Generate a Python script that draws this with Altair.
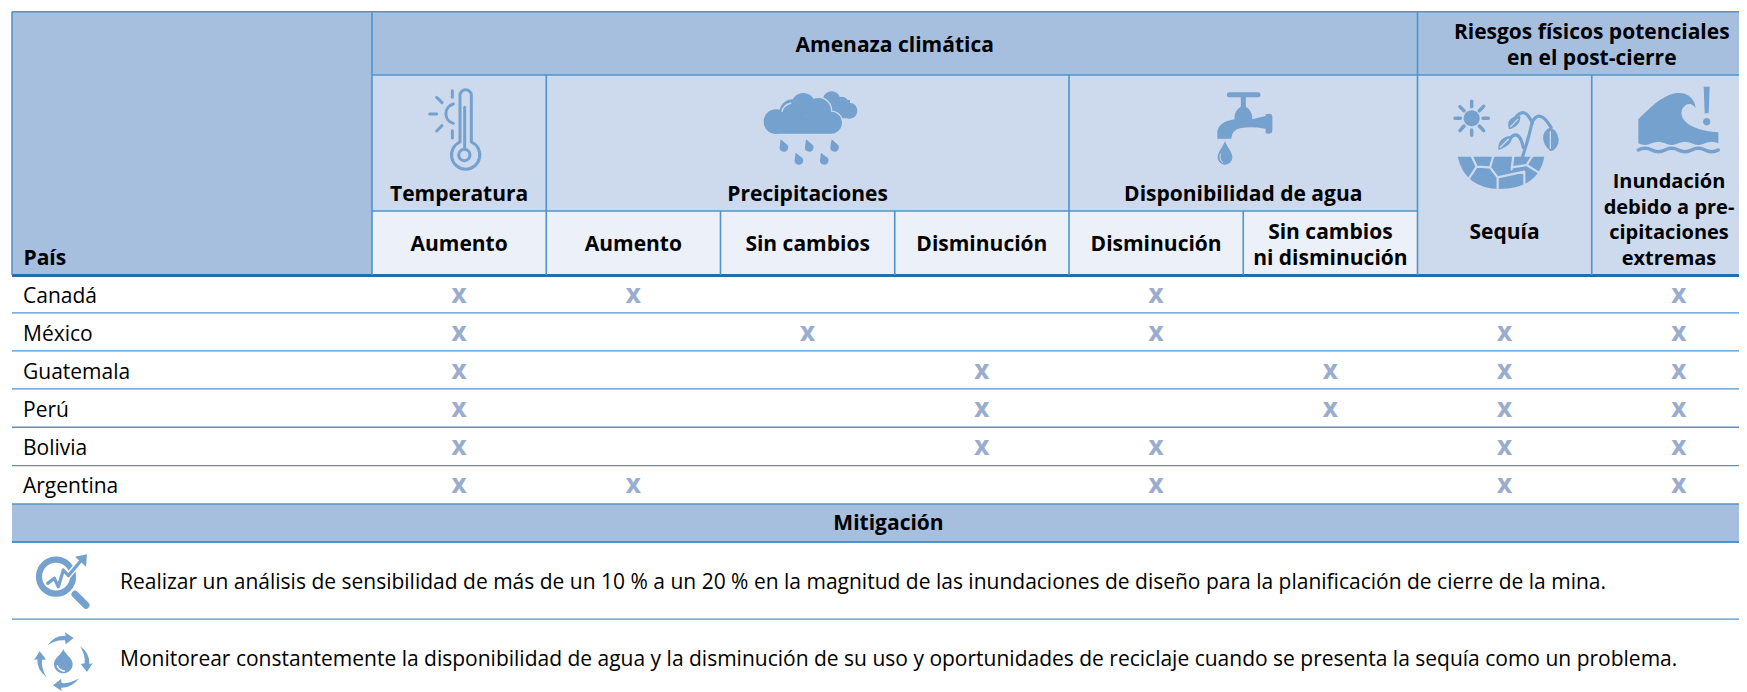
import math
import altair as alt
import pandas as pd

# ---------- table content ----------
COUNTRIES = ["Canadá", "México", "Guatemala", "Perú", "Bolivia", "Argentina"]
# which of the eight columns carries an X, per country
MARKS = {
    "Canadá":    [0, 1, 4, 7],
    "México":    [0, 2, 4, 6, 7],
    "Guatemala": [0, 3, 5, 6, 7],
    "Perú":      [0, 3, 5, 6, 7],
    "Bolivia":   [0, 3, 4, 6, 7],
    "Argentina": [0, 1, 4, 6, 7],
}
MITIGATION = [
    "Realizar un análisis de sensibilidad de más de un 10 % a un 20 % en la magnitud de las inundaciones de diseño para la planificación de cierre de la mina.",
    "Monitorear constantemente la disponibilidad de agua y la disminución de su uso y oportunidades de reciclaje cuando se presenta la sequía como un problema.",
]

DARK, MID, LIGHT = "#A6BFDF", "#CDD9EC", "#ECF0F9"
LINE, THICK = "#4F94CC", "#1F6FAE"
INK, XCOL, ICON = "#000000", "#9BADCE", "#75A1CF"
FONT = "Open Sans"

# ---------- logical grid: 1 x-unit = one data column, 1 y-unit = one country row ----------
W, H = 1731, 684
CW, RH = 174.25, 38.0
X0, Y0 = 372.0, 276.0      # page position of grid origin
def ux(px): return (px - X0) / CW
def uy(py): return (py - Y0) / RH
xs = alt.Scale(domain=[ux(8), ux(8 + W)], range=[0, W], nice=False, zero=False)
ys = alt.Scale(domain=[uy(8), uy(8 + H)], range=[0, H], nice=False, zero=False)
X = lambda f="x": alt.X(f"{f}:Q", scale=xs, axis=None)
Y = lambda f="y": alt.Y(f"{f}:Q", scale=ys, axis=None)

LEFT = ux(12)
RIGHT = ux(8 + W)
TOP, R1, R2, R3 = uy(11.7), uy(75), uy(211), uy(275)

# ---------- cells ----------
cells = [
    (LEFT, 0, TOP, R3, DARK),
    (0, RIGHT, TOP, R1, DARK),
    (0, 6, R1, R2, MID),
    (0, 6, R2, R3, LIGHT),
    (6, RIGHT, R1, R3, MID),
    (LEFT, RIGHT, 6, 7, DARK),
]
cell_df = pd.DataFrame(cells, columns=["x", "x2", "y", "y2", "c"])
rects = alt.Chart(cell_df).mark_rect(strokeWidth=0).encode(
    x=X(), x2="x2:Q", y=Y(), y2="y2:Q",
    color=alt.Color("c:N", scale=None),
)

# ---------- lines ----------
hl = [(LEFT, RIGHT, TOP, 1.6, LINE), (0, RIGHT, R1, 1.6, LINE), (0, 6, R2, 1.6, LINE),
      (LEFT, RIGHT, uy(275.5), 3, THICK)]
for r in [0.97, 1.97, 2.97, 3.98, 4.99]:
    hl.append((LEFT, RIGHT, r, 1.3, LINE))
hl += [(LEFT, RIGHT, 6, 1.6, LINE), (LEFT, RIGHT, 7, 1.8, LINE), (LEFT, RIGHT, 9.03, 1.4, LINE)]
hdf = pd.DataFrame(hl, columns=["x", "x2", "y", "w", "c"])
hrules = alt.Chart(hdf).mark_rule().encode(
    x=X(), x2="x2:Q", y=Y(),
    color=alt.Color("c:N", scale=None),
    strokeWidth=alt.StrokeWidth("w:Q", scale=None),
)
vl = [(LEFT, TOP, R3), (0, TOP, R3), (6, TOP, R3),
      (1, R1, R3), (2, R2, R3), (3, R2, R3), (4, R1, R3), (5, R2, R3), (7, R1, R3)]
vdf = pd.DataFrame(vl, columns=["x", "y", "y2"])
vrules = alt.Chart(vdf).mark_rule(color=LINE, strokeWidth=1.6).encode(
    x=X(), y=Y(), y2="y2:Q",
)

# ---------- texts ----------
def tx(rows, dy=1.3, **kw):
    df = pd.DataFrame(rows, columns=["x", "y", "t"])
    return alt.Chart(df).mark_text(font=FONT, color=kw.pop("color", INK), baseline="middle", dy=dy, **kw).encode(
        x=X(), y=Y(), text="t:N")

def cols(a, b):  # centre of a column span
    return (a + b) / 2

bold_center = tx([
    (cols(0, 6), uy(44.7), "Amenaza climática"),
    (cols(6, 8), uy(32), "Riesgos físicos potenciales"),
    (cols(6, 8), uy(58), "en el post-cierre"),
    (cols(0, 1), uy(193.7), "Temperatura"),
    (cols(1, 4), uy(193.7), "Precipitaciones"),
    (cols(4, 6), uy(193.7), "Disponibilidad de agua"),
    (cols(0, 1), uy(244), "Aumento"),
    (cols(1, 2), uy(244), "Aumento"),
    (cols(2, 3), uy(244), "Sin cambios"),
    (cols(3, 4), uy(244), "Disminución"),
    (cols(4, 5), uy(244), "Disminución"),
    (cols(5, 6), uy(231.7), "Sin cambios"),
    (cols(5, 6), uy(257.7), "ni disminución"),
    (cols(6, 7), uy(231.7), "Sequía"),
], fontSize=21, fontWeight="bold", align="center")

last_col = tx([
    (ux(1669), uy(180.7), "Inundación"),
    (ux(1669), uy(206.4), "debido a pre-"),
    (ux(1669), uy(232), "cipitaciones"),
    (ux(1669), uy(257.7), "extremas"),
], fontSize=20, fontWeight="bold", align="center")

mit_title = tx([(ux(888.5), 6.5, "Mitigación")], fontSize=21, fontWeight="bold", align="center")
pais = tx([(ux(23.5), uy(257.5), "País")], fontSize=21, fontWeight="bold", align="left")
country_t = tx([(ux(23), i + 0.5, c) for i, c in enumerate(COUNTRIES)], dy=1.5, fontSize=21, align="left")
mit_t = tx([(ux(120), uy(581.7), MITIGATION[0]), (ux(120), uy(659), MITIGATION[1])], fontSize=21, align="left")
x_t = tx([(j + 0.5, i + 0.5, "X") for i, c in enumerate(COUNTRIES) for j in MARKS[c]],
         dy=1.5, fontSize=21, fontWeight=800, align="center", color=XCOL)

# ---------- icons (paths drawn on a 3x grid relative to an anchor) ----------
def circ(cx, cy, r):
    return f"M{cx-r} {cy}A{r} {r} 0 1 1 {cx+r} {cy}A{r} {r} 0 1 1 {cx-r} {cy}Z"
def drop(tx_, ty, cx, cy, r):
    return f"M{tx_} {ty}L{cx-r} {cy-3}A{r} {r} 0 1 0 {cx+r*0.85:.1f} {cy-r*0.53:.1f}Z"
def rot(points, k, c=(115, 350)):
    out = []
    for cmd, *p in points:
        pts = []
        for a, b in zip(p[0::2], p[1::2]):
            dx, dy = a - c[0], b - c[1]
            for _ in range(k):
                dx, dy = -dy, dx
            pts += [c[0] + dx, c[1] + dy]
        out.append(cmd + " ".join(str(v) for v in pts))
    return "".join(out) + "Z"

SCALE = 4 / 9  # symbol size giving 1/3 px per path unit

def icon(px, py, path, fill=None, stroke=None, sw=0):
    d = pd.DataFrame({"x": [ux(px)], "y": [uy(py)]})
    kw = dict(shape=path, size=SCALE, opacity=1, strokeCap="round", strokeJoin="round")
    if fill:
        kw.update(filled=True, fill=fill, strokeWidth=0)
    else:
        kw.update(filled=False, stroke=stroke, strokeWidth=sw)
    return alt.Chart(d).mark_point(**kw).encode(x=X(), y=Y())

icons = []
# thermometer
O = (420, 80)
icons += [
    icon(*O, "M120 186V46A17 17 0 0 1 154 46V186A42.5 42.5 0 1 1 120 186Z", stroke=ICON, sw=3),
    icon(*O, circ(133, 225, 17), stroke=ICON, sw=3),
    icon(*O, "M134 82V205", stroke=ICON, sw=3),
    icon(*O, "M100 72A30 30 0 0 0 100 130", stroke=ICON, sw=3),
    icon(*O, "M97 32V52M50 52L66 68M29 102H50M50 153L66 137M97 152V174", stroke=ICON, sw=3),
]
# clouds and rain
O = (750, 80)
front = circ(78, 125, 37) + circ(128, 98, 40) + circ(160, 75, 36) + circ(205, 92, 38) + circ(243, 128, 33) + "M78 110H243V161H78Z"
back = circ(245, 60, 26) + circ(275, 72, 22) + circ(298, 92, 24) + "M215 60H300V115H215Z"
icons += [
    icon(*O, back, fill=ICON),
    icon(*O, front, stroke=MID, sw=2.5),
    icon(*O, front, fill=ICON),
    icon(*O, "M96 94Q100 76 122 70", stroke=MID, sw=1.5),
]
for p in [(92, 178, 102, 203), (168, 178, 178, 203), (245, 178, 254, 203), (137, 218, 147, 242), (213, 218, 223, 242)]:
    icons.append(icon(*O, drop(*p, 13), fill=ICON))
# tap
O = (1200, 80)
tap = ("M52 176V155Q56 125 104 118Q100 95 122 80H138Q160 95 156 118L197 108V103Q217 98 217 108V152Q217 164 197 160V146"
       "Q150 138 120 145Q96 150 94 176Z")
icons += [
    icon(*O, tap, fill=ICON),
    icon(*O, "M88 44H174M130 44V82", stroke=ICON, sw=5),
    icon(*O, "M75 182C70 200 53 215 53 232A22 22 0 1 0 97 232C97 215 80 200 75 182Z", fill=ICON),
    icon(*O, "M61 222Q57 240 68 248", stroke=MID, sw=1),
]
# drought
O = (1445, 90)
icons += [
    icon(*O, circ(80, 85, 24), fill=ICON),
    icon(*O, "M80 34V50M80 120V136M30 85H46M114 85H130M45 50L57 62M103 62L116 49M45 122L57 108M103 108L116 122", stroke=ICON, sw=3.5),
    icon(*O, "M38 200H298Q280 295 165 297Q60 295 38 200Z", fill=ICON),
    icon(*O, "M80 198L95 230L72 265M95 230L135 232L158 262V300M145 198L135 232M158 262L238 245V280M205 198L200 238M200 232L245 225L285 250M245 225L262 198",
         stroke=MID, sw=2.2),
    icon(*O, "M232 202Q250 150 262 95Q285 55 318 112M262 100Q240 45 210 85M235 172Q222 115 195 145", stroke=ICON, sw=3.2),
    icon(*O, "M192 118Q180 80 226 78Q228 108 192 118Z", fill=ICON),
    icon(*O, "M160 180Q158 140 200 138Q205 165 160 180Z", fill=ICON),
    icon(*O, "M318 112Q345 130 340 160Q330 185 315 183Q290 160 295 135Q300 118 318 112Z", fill=ICON),
    icon(*O, "M316 125V175M197 110L218 88M166 172L190 148", stroke=MID, sw=1.3),
]
# flood
O = (1630, 80)
body = ("M25 118C60 85 90 50 135 40C170 33 195 55 197 85C190 70 170 65 158 85C145 110 165 150 265 157V190"
        "Q245 180 225 190T185 190T145 190T105 190T65 190T25 190Z")
icons += [
    icon(*O, body, fill=ICON),
    icon(*O, "M25 210Q45 200 65 210T105 210T145 210T185 210T225 210T265 210", stroke=ICON, sw=3.4),
    icon(*O, "M221 20H239L236 100H224Z", fill=ICON),
    icon(*O, circ(230, 125, 11), fill=ICON),
]
# search
O = (25, 545)
icons += [
    icon(*O, circ(93, 95, 51), stroke=ICON, sw=6.2),
    icon(*O, "M150 148L183 181", stroke=ICON, sw=7),
    icon(*O, "M68 115L88 100L100 125L115 75L130 92L165 50", stroke="#FFFFFF", sw=6),
    icon(*O, "M68 115L88 100L100 125L115 75L130 92L172 42", stroke=ICON, sw=3.3),
    icon(*O, "M150 35L186 28L183 65Z", fill=ICON),
]
# water cycle
icons += [
    icon(*O, "M115 312C108 330 87 340 87 357A28 28 0 1 0 143 357C143 340 122 330 115 312Z", fill=ICON),
    icon(*O, "M97 362Q102 376 118 378", stroke="#FFFFFF", sw=1.5),
]
ARROW = [("M", 68, 300), ("Q", 90, 270, 122, 272), ("L", 120, 262), ("L", 146, 279), ("L", 122, 298), ("L", 120, 286), ("Q", 95, 283, 68, 300)]
for k in range(4):
    icons.append(icon(*O, rot(ARROW, k), fill=ICON))

chart = alt.layer(rects, hrules, vrules, bold_center, last_col, mit_title, pais, country_t, mit_t, x_t, *icons).properties(
    width=W, height=H, padding=0, autosize=alt.AutoSizeParams(type="none"),
).configure_view(stroke=None)

chart.save("out.html", embed_options={"renderer": "svg", "actions": False})
